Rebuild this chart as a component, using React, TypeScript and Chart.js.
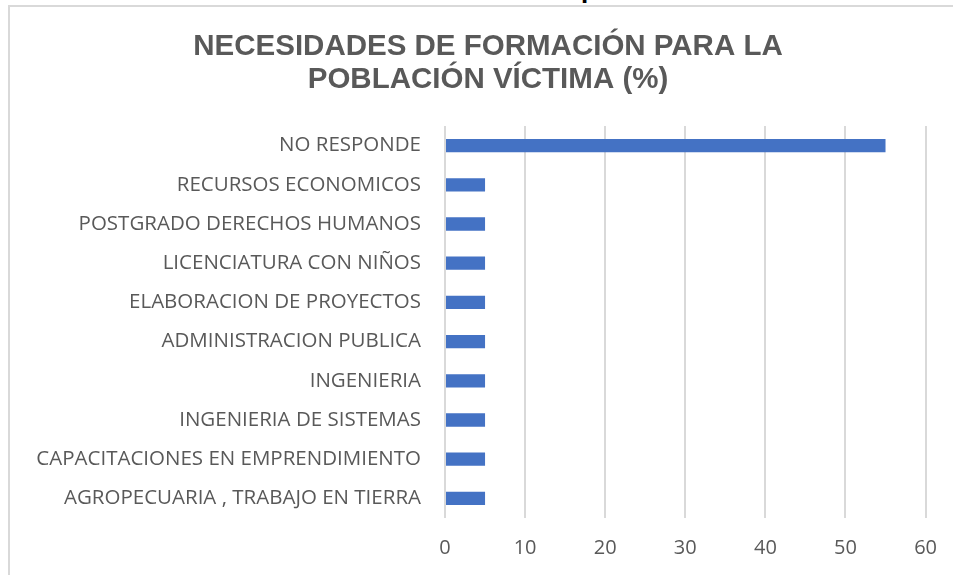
import React, { useEffect, useRef } from "react";
import { Chart, registerables } from "chart.js";

Chart.register(...registerables);

const categories = [
  "NO RESPONDE",
  "RECURSOS ECONOMICOS",
  "POSTGRADO DERECHOS HUMANOS",
  "LICENCIATURA CON NIÑOS",
  "ELABORACION DE PROYECTOS",
  "ADMINISTRACION PUBLICA",
  "INGENIERIA",
  "INGENIERIA DE SISTEMAS",
  "CAPACITACIONES EN EMPRENDIMIENTO",
  "AGROPECUARIA , TRABAJO EN TIERRA",
];
const values = [55, 5, 5, 5, 5, 5, 5, 5, 5, 5];
const titleLines = ["NECESIDADES DE FORMACIÓN PARA LA", "POBLACIÓN VÍCTIMA (%)"];
const xMin = 0;
const xMax = 60;
const xStep = 10;

const titlePlugin = {
  id: "centeredTitle",
  afterDraw(chart: any) {
    const ctx = chart.ctx;
    ctx.save();
    ctx.fillStyle = "#595959";
    ctx.font = "bold 29.5px 'Liberation Sans', Arial, sans-serif";
    ctx.textAlign = "center";
    ctx.textBaseline = "middle";
    titleLines.forEach((line, i) => {
      ctx.fillText(line, 488, 46.5 + i * 33);
    });
    ctx.restore();
  },
};

export default function App() {
  const ref = useRef<HTMLCanvasElement | null>(null);

  useEffect(() => {
    if (!ref.current) return;
    const chart = new Chart(ref.current, {
      type: "bar",
      data: {
        labels: categories,
        datasets: [
          {
            data: values,
            backgroundColor: "#4472C4",
            borderWidth: 0,
            categoryPercentage: 1,
            barPercentage: 0.34,
          },
        ],
      },
      options: {
        indexAxis: "y",
        animation: false,
        responsive: false,
        layout: { padding: { left: 15, right: 29, top: 126, bottom: 0 } },
        plugins: {
          legend: { display: false },
          tooltip: { enabled: false },
          title: { display: false },
        },
        scales: {
          x: {
            min: xMin,
            max: xMax,
            ticks: {
              stepSize: xStep,
              color: "#595959",
              padding: 18,
              font: { family: "'Open Sans', sans-serif", size: 20 },
            },
            grid: { color: "#d9d9d9", lineWidth: 2, drawTicks: false },
            border: { display: false },
            afterFit: (s: any) => {
              s.height = 57;
            },
          },
          y: {
            ticks: {
              color: "#595959",
              padding: 24,
              font: { family: "'Open Sans', sans-serif", size: 20.5 },
              autoSkip: false,
            },
            grid: { display: false, drawTicks: false },
            border: { display: false },
            afterFit: (s: any) => {
              s.width = 430;
            },
          },
        },
      },
      plugins: [titlePlugin],
    } as any);
    return () => chart.destroy();
  }, []);

  return (
    <div style={{ position: "fixed", left: 0, top: 0, width: 955, height: 575, background: "#fff", overflow: "hidden" }}>
      <div
        style={{
          position: "absolute",
          left: 8,
          top: 5,
          right: 2,
          bottom: -10,
          borderTop: "2px solid #d9d9d9",
          borderLeft: "2px solid #d9d9d9",
        }}
      />
      <div style={{ position: "absolute", left: 570, top: 0, width: 40, height: 3, overflow: "hidden" }}>
        <div style={{ position: "absolute", left: 11, top: -24, fontFamily: "'Liberation Sans', Arial", fontWeight: "bold", fontSize: 26, color: "#000" }}>
          p
        </div>
      </div>
      <canvas ref={ref} width={955} height={575} style={{ position: "absolute", left: 0, top: 0 }} />
    </div>
  );
}
